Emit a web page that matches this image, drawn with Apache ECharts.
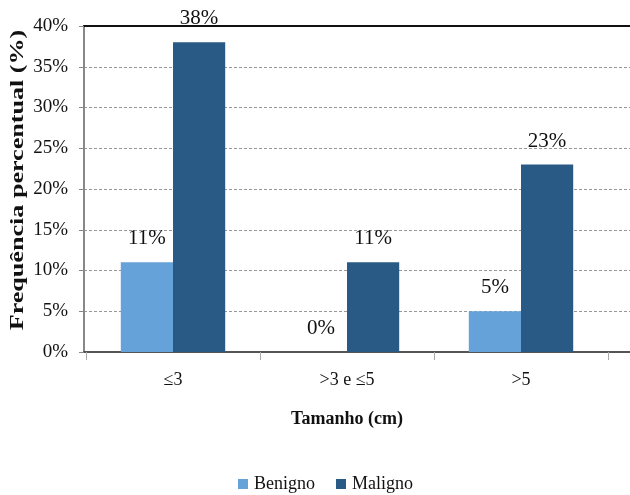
<!DOCTYPE html>
<html>
<head>
<meta charset="utf-8">
<script src="https://cdn.jsdelivr.net/npm/echarts@6/dist/echarts.min.js"></script>
<style>
  html, body { margin: 0; padding: 0; background: #fff; }
  #chart { width: 630px; height: 495px; }
</style>
</head>
<body>
<div id="chart"></div>
<script>
// dados
const categories = ['\u22643', '>3 e \u22645', '>5']
const benigno = [11, 0, 5]
const maligno = [38, 11, 23]
const yTicks = [0, 5, 10, 15, 20, 25, 30, 35, 40]

const serif = '"Liberation Serif", "DejaVu Serif", serif'
const chart = echarts.init(document.getElementById('chart'))

const label = {
  show: true,
  position: 'top',
  distance: 13,
  formatter: p => p.value + '%',
  fontFamily: serif,
  fontSize: 21,
  color: '#111'
}

chart.setOption({
  animation: false,
  textStyle: { fontFamily: serif },
  legend: {
    data: ['Benigno', 'Maligno'],
    top: 470,
    left: 233,
    itemWidth: 10,
    itemHeight: 10,
    itemGap: 21,
    icon: 'rect',
    textStyle: { fontFamily: serif, fontSize: 18, color: '#111', padding: [0, 0, 0, 1] }
  },
  // titulo do eixo y (esticado no sentido do texto, como no original)
  graphic: [
    {
      type: 'text',
      x: 18,
      y: 180,
      rotation: Math.PI / 2,
      scaleX: 1.45,
      style: {
        text: 'Frequência percentual (%)',
        font: 'bold 18px "Liberation Serif", serif',
        fill: '#111',
        align: 'center',
        verticalAlign: 'middle'
      }
    }
  ],
  grid: [
    // grade completa (linhas de grade até a borda)
    { left: 84, right: 0, top: 26, bottom: 143 },
    // grade das barras
    { left: 86, width: 522, top: 26, bottom: 143 }
  ],
  xAxis: [
    {
      gridIndex: 0, type: 'category', data: categories, position: 'bottom',
      axisLine: { lineStyle: { color: '#555', width: 2 } },
      axisTick: { show: false }, axisLabel: { show: false }
    },
    {
      gridIndex: 0, type: 'category', data: categories, position: 'top',
      axisLine: { lineStyle: { color: '#111', width: 2 } },
      axisTick: { show: false }, axisLabel: { show: false }
    },
    {
      gridIndex: 1, type: 'category', data: categories,
      axisLine: { show: false },
      axisTick: { show: true, length: 8, lineStyle: { color: '#aaa' } },
      axisLabel: { fontFamily: serif, fontSize: 18, color: '#111', margin: 19 },
      name: 'Tamanho (cm)',
      nameLocation: 'middle',
      nameGap: 58,
      nameTextStyle: { fontFamily: serif, fontSize: 18, fontWeight: 'bold', color: '#111' }
    }
  ],
  yAxis: [
    {
      gridIndex: 0, type: 'value', min: 0, max: 40, interval: 5,
      axisLine: { show: true, lineStyle: { color: '#888', width: 2 } },
      axisTick: { show: true, length: 5, lineStyle: { color: '#888' } },
      axisLabel: {
        fontFamily: serif, fontSize: 19, color: '#111', margin: 16,
        formatter: v => yTicks.includes(v) ? v + '%' : ''
      },
      splitLine: { lineStyle: { color: '#999', type: [3, 2], width: 1 } }
    },
    {
      gridIndex: 1, type: 'value', min: 0, max: 40, interval: 5,
      axisLine: { show: false }, axisTick: { show: false },
      axisLabel: { show: false }, splitLine: { show: false }
    }
  ],
  series: [
    {
      name: 'Benigno', type: 'bar', xAxisIndex: 2, yAxisIndex: 1,
      data: benigno, barGap: '0%', barCategoryGap: '40%',
      itemStyle: { color: '#64A2D9' }, label
    },
    {
      name: 'Maligno', type: 'bar', xAxisIndex: 2, yAxisIndex: 1,
      data: maligno, barGap: '0%', barCategoryGap: '40%',
      itemStyle: { color: '#295A85' }, label
    }
  ]
})
</script>
</body>
</html>
